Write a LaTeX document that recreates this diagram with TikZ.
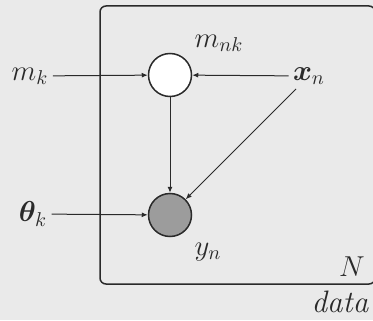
\documentclass[tikz,border=0pt]{standalone}
\usepackage{bm}
\usetikzlibrary{arrows.meta}
\definecolor{bgc}{HTML}{EAEAEA}
\definecolor{ink}{HTML}{2A2A2A}
\definecolor{obs}{HTML}{9C9C9C}
\tikzset{
  lbl/.style={font=\fontsize{14.4}{17}\selectfont, text=ink, inner sep=2pt},
  rv/.style={circle, draw=ink, line width=0.75pt, minimum size=21.5pt, inner sep=0pt},
  edge/.style={draw=ink, line width=0.5pt, -{Latex[length=3pt,width=2.5pt]}},
  plate/.style={draw=ink, line width=0.75pt, rounded corners=3pt}
}
\begin{document}
\begin{tikzpicture}[x=0.5pt,y=-0.5pt]
\useasboundingbox[fill=bgc] (0,0) rectangle (373,320);
\draw[plate] (100,6) rectangle (375,284);
\node[rv, fill=white] (mnk) at (170,75) {};
\node[rv, fill=obs] (yn) at (170,215) {};
\node[lbl] (mk) at (30,76) {$m_k$};
\node[lbl] (xn) at (309,76) {$\bm{x}_n$};
\node[lbl] (thk) at (33,214) {$\bm{\theta}_k$};
\node[lbl] (mnklbl) at (219,43) {$m_{nk}$};
\node[lbl] (ynlbl) at (208,252) {$y_n$};
\node[lbl] (N) at (352,267) {$N$};
\node[lbl, font=\fontsize{15.5}{18}\selectfont] (data) at (340,302) {\itshape data};
\draw[edge] (mk) -- (mnk);
\draw[edge] (xn) -- (mnk);
\draw[edge] (mnk) -- (yn);
\draw[edge] (xn) -- (yn);
\draw[edge] (thk) -- (yn);
\end{tikzpicture}
\end{document}
